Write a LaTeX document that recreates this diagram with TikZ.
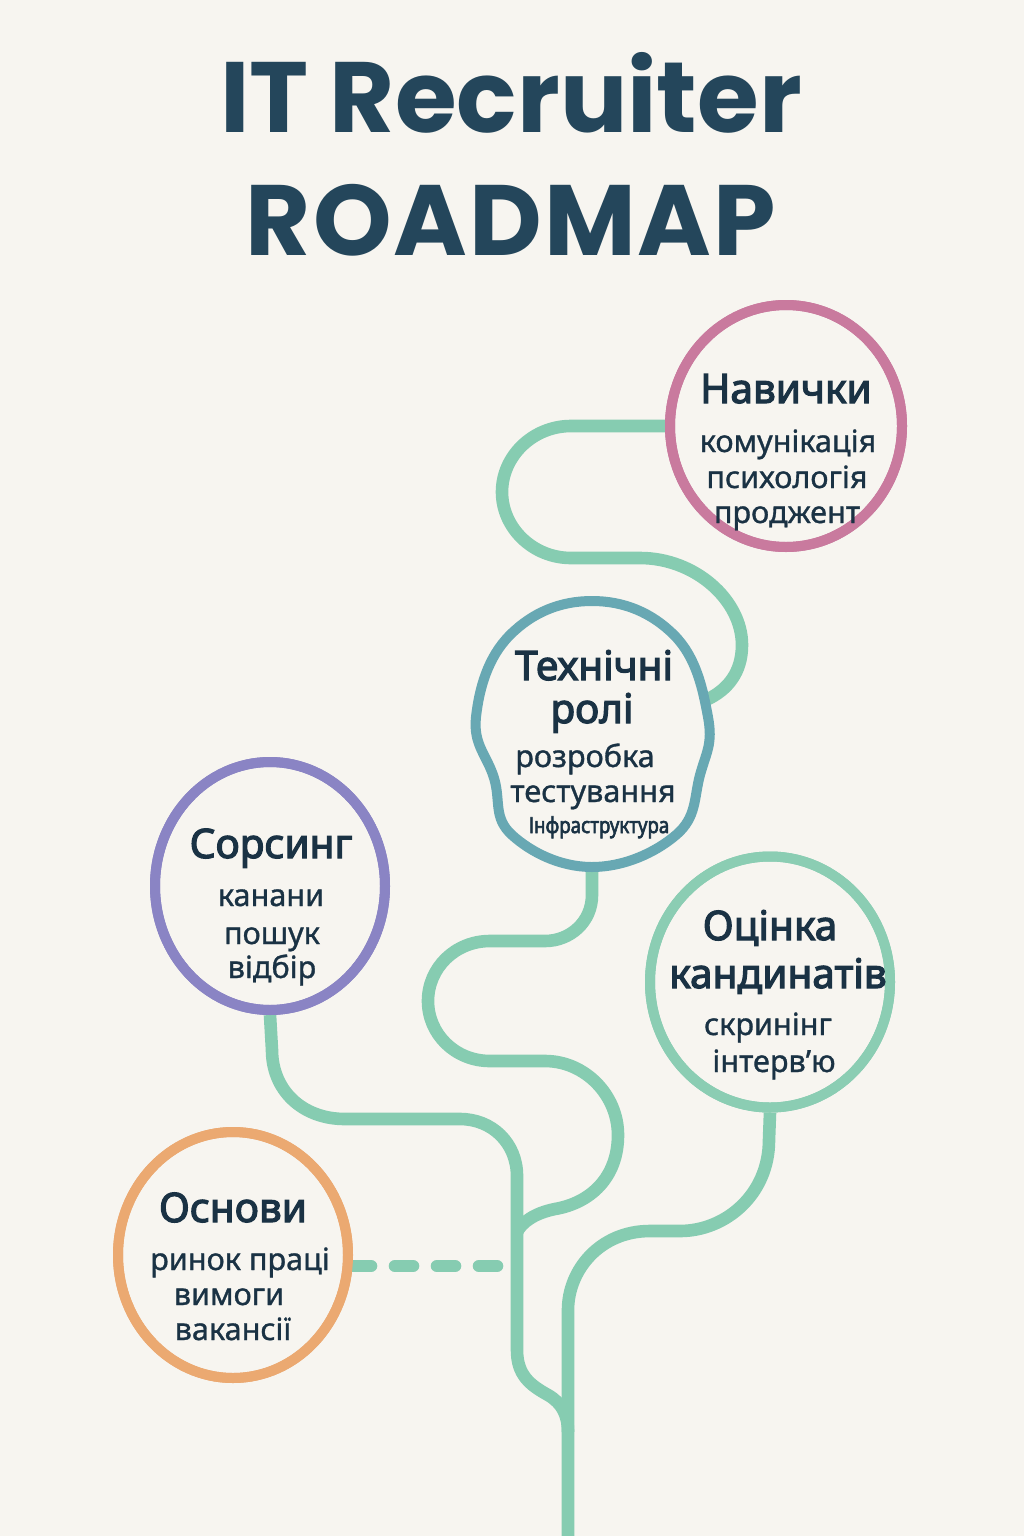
\documentclass[tikz,border=0pt]{standalone}
\usepackage{fontspec}
\setmainfont{Noto Sans}[BoldFont={Noto Sans}, BoldFeatures={FakeBold=3}]
\newfontfamily\subfont{Noto Sans}[FakeBold=1]
\newfontfamily\titlefont{Poppins}
\usetikzlibrary{shapes.geometric}
\definecolor{bg}{HTML}{F7F5F0}
\definecolor{roadc}{HTML}{86CCB1}
\definecolor{navc}{HTML}{C97A9E}
\definecolor{techc}{HTML}{68A8B3}
\definecolor{sorsc}{HTML}{8A84C4}
\definecolor{ocinc}{HTML}{8BCDB3}
\definecolor{osnc}{HTML}{EBA971}
\definecolor{ink}{HTML}{1A3244}
\definecolor{titlec}{HTML}{24465B}
\begin{document}
\begin{tikzpicture}[x=0.5pt,y=-0.5pt,
  road/.style={draw=roadc, line width=6.3pt, line join=round},
  ring/.style={ellipse, draw, line width=5pt, inner sep=0pt},
  head/.style={font=\bfseries\fontsize{20.3}{24}\selectfont, text=ink, anchor=base, inner sep=0pt},
  sub/.style={font=\subfont\fontsize{15.3}{19}\selectfont, text=ink, anchor=base, inner sep=0pt},
  tiny/.style={font=\bfseries\fontsize{11}{13}\selectfont, text=ink, anchor=base, inner sep=0pt},
  ttl/.style={font=\titlefont\bfseries\fontsize{50}{60}\selectfont, text=titlec, anchor=base, inner sep=0pt}]
\fill[bg] (0,0) rectangle (1024,1536);
\useasboundingbox (0,0) rectangle (1024,1536);

% title
\node[ttl] (t1) at (511,133) {IT Recruiter};
\node[ttl] (t2) at (511,255) {\addfontfeatures{LetterSpace=2}ROADMAP};

% circle nodes
\node[ring, draw=navc, minimum width=116pt, minimum height=121pt] (nav) at (786,426) {};
\node[ring, draw=sorsc, minimum width=115pt, minimum height=124pt] (sors) at (270,886) {};
\node[ring, draw=ocinc, minimum width=120pt, minimum height=125.5pt] (ocin) at (770,982) {};
\node[ring, draw=osnc, minimum width=115pt, minimum height=123pt] (osn) at (233,1255) {};
\node[inner sep=0pt, minimum width=115pt, minimum height=133pt] (tech) at (592,733) {};
\coordinate (techR) at (706,700);
\coordinate (jd) at (517,1266);

% roads
\path[road] (nav.west) -- (571,426) .. controls (533,426) and (502,456) .. (502,492)
  .. controls (502,528) and (533,558) .. (571,558) -- (640,558)
  .. controls (695,558) and (742,600) .. (742,645)
  .. controls (742,672) and (728,690) .. (techR);
\path[road] (tech.south) -- (592,895) .. controls (592,922) and (570,941) .. (545,941) -- (490,941)
  .. controls (455,941) and (428,968) .. (428,1001) .. controls (428,1034) and (455,1061) .. (490,1061)
  -- (545,1061) .. controls (585,1061) and (618,1095) .. (618,1135)
  .. controls (618,1178) and (590,1203) .. (555,1209) .. controls (535,1213) and (522,1222) .. (517,1232);
\path[road] (sors.south) -- (272,1050) .. controls (272,1090) and (302,1119) .. (345,1119) -- (460,1119)
  .. controls (492,1119) and (517,1143) .. (517,1176) -- (517,1350)
  .. controls (517,1375) and (530,1385) .. (548,1395) .. controls (562,1403) and (568,1415) .. (568,1432);
\path[road] (ocin.south) -- (769,1140) .. controls (769,1195) and (725,1231) .. (680,1231) -- (650,1231)
  .. controls (600,1231) and (568,1270) .. (568,1310) -- (568,1540);
\path[road, line cap=round, dash pattern=on 9pt off 12pt] ([yshift=-5.5pt]osn.east) -- (jd);

% redraw rings on top
\node[ring, draw=navc, minimum width=116pt, minimum height=121pt] at (nav) {};
\node[ring, draw=sorsc, minimum width=115pt, minimum height=124pt] at (sors) {};
\node[ring, draw=ocinc, minimum width=120pt, minimum height=125.5pt] at (ocin) {};
\node[ring, draw=osnc, minimum width=115pt, minimum height=123pt] at (osn) {};
\draw[techc, line width=5pt] plot[smooth cycle, tension=0.7] coordinates {(592,601) (674,635) (708,717) (700,775) (676,835) (592,867) (512,835) (494,778) (476,717) (510,635)};

% texts
\node[head] (navH) at (786,403) {Навички};
\node[sub] (nav1) at (788,452) {комунікація};
\node[sub] (nav2) at (787,488) {психологія};
\node[sub] (nav3) at (787,523) {проджент};

\node[head] (techH1) at (594,680) {Технічні};
\node[head] (techH2) at (592,723) {ролі};
\node[sub] (tech1) at (585,767) {розробка};
\node[sub] (tech2) at (593,802) {тестування};
\node[tiny] (tech3) at (599,833) {\scalebox{0.85}[1]{Інфраструктура}};

\node[head] (sorsH) at (271,858) {Сорсинг};
\node[sub] (sors1) at (271,906) {канани};
\node[sub] (sors2) at (272,944) {пошук};
\node[sub] (sors3) at (272,978) {відбір};

\node[head] (ocinH1) at (770,940) {Оцінка};
\node[head] (ocinH2) at (778,988) {кандинатів};
\node[sub] (ocin1) at (768,1035) {скринінг};
\node[sub] (ocin2) at (774,1072) {інтерв’ю};

\node[head] (osnH) at (233,1222) {Основи};
\node[sub] (osn1) at (240,1270) {ринок праці};
\node[sub] (osn2) at (229,1305) {вимоги};
\node[sub] (osn3) at (233,1340) {вакансії};
\end{tikzpicture}
\end{document}
